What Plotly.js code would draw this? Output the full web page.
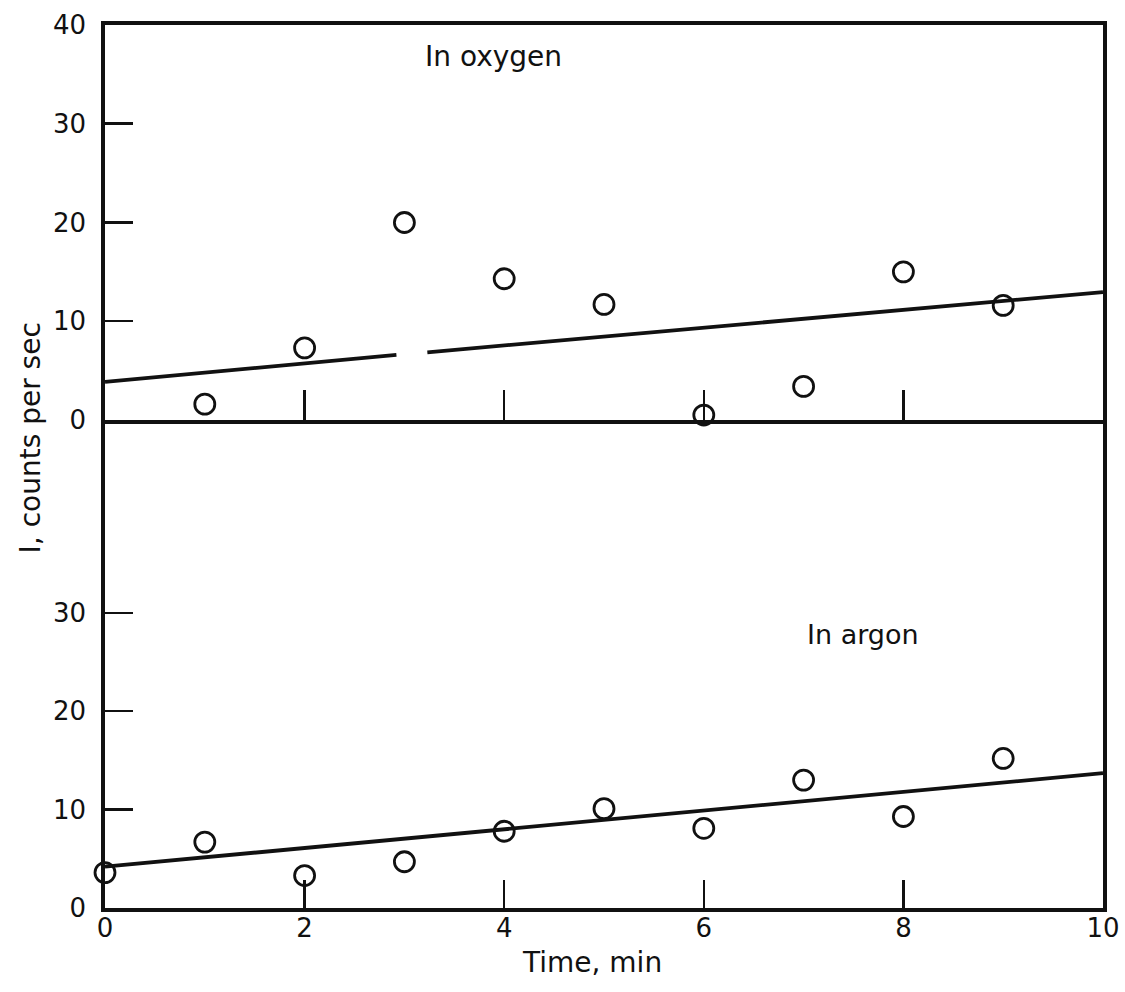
<!DOCTYPE html>
<html>
<head>
<meta charset="utf-8">
<script src="https://cdn.plot.ly/plotly-3.0.1.min.js"></script>
<style>
  html, body { margin: 0; padding: 0; background: #ffffff; }
  #chart { width: 1125px; height: 992px; }
</style>
</head>
<body>
<div id="chart"></div>
<script>
// ---- Data ----
// In oxygen (upper panel)
const oxTime   = [1, 2, 3, 4, 5, 6, 7, 8, 9];
const oxCounts = [1.6, 7.3, 20.0, 14.3, 11.7, 0.5, 3.4, 15.0, 11.6];
// fitted line (drawn with a small break near t = 3 min, as in the original)
const oxFitTime   = [0, 2.92, null, 3.23, 10];
const oxFitCounts = [3.85, 6.6, null, 6.85, 12.95];

// In argon (lower panel)
const arTime   = [0, 1, 2, 3, 4, 5, 6, 7, 8, 9];
const arCounts = [3.6, 6.7, 3.3, 4.7, 7.8, 10.1, 8.1, 13.0, 9.3, 15.2];
const arFitTime   = [0, 10];
const arFitCounts = [4.2, 13.7];

// tick labels
const xTickVals  = [0, 2, 4, 6, 8, 10];
const xTickText  = ['0', '2', '4', '6', '8', '10'];
const topXTicks  = [2, 4, 6, 8];
const oxYTicks   = [0, 10, 20, 30, 40];
const arYTicks   = [0, 10, 20, 30];

// ---- styling ----
const INK = '#111111';
const FONT = 'DejaVu Sans, Liberation Sans, sans-serif';
const split = 0.5527;

const markerStyle = {
  symbol: 'circle-open',
  size: 20,
  color: INK,
  line: { width: 2.8, color: INK }
};

const traces = [
  { x: oxTime, y: oxCounts, xaxis: 'x2', yaxis: 'y2', type: 'scatter', mode: 'markers',
    marker: markerStyle, name: 'In oxygen', cliponaxis: false },
  { x: oxFitTime, y: oxFitCounts, xaxis: 'x2', yaxis: 'y2', type: 'scatter', mode: 'lines',
    line: { color: INK, width: 3.8 }, connectgaps: false, name: 'oxygen fit' },
  { x: arTime, y: arCounts, xaxis: 'x', yaxis: 'y', type: 'scatter', mode: 'markers',
    marker: markerStyle, name: 'In argon', cliponaxis: false },
  { x: arFitTime, y: arFitCounts, xaxis: 'x', yaxis: 'y', type: 'scatter', mode: 'lines',
    line: { color: INK, width: 3.8 }, name: 'argon fit' }
];

const axisCommon = {
  showgrid: false,
  zeroline: false,
  showline: true,
  linecolor: INK,
  ticks: 'inside',
  tickcolor: INK,
  tickwidth: 2.5,
  tickfont: { family: FONT, size: 26, color: INK }
};

const layout = {
  width: 1125,
  height: 992,
  margin: { l: 105, r: 22, t: 25, b: 84 },
  paper_bgcolor: '#ffffff',
  plot_bgcolor: '#ffffff',
  showlegend: false,
  font: { family: FONT, color: INK },
  xaxis: Object.assign({}, axisCommon, {
    domain: [0, 1], range: [0, 10], anchor: 'y',
    linewidth: 3.8, ticklen: 28,
    tickmode: 'array', tickvals: xTickVals, ticktext: xTickText,
    ticklabelstandoff: -6
  }),
  yaxis: Object.assign({}, axisCommon, {
    domain: [0, split], range: [0, 49.6], anchor: 'x',
    linewidth: 3.8, mirror: true, ticklen: 28,
    tickmode: 'array', tickvals: arYTicks, ticktext: arYTicks.map(String),
    ticklabelstandoff: 10
  }),
  xaxis2: Object.assign({}, axisCommon, {
    domain: [0, 1], range: [0, 10], anchor: 'y2', matches: 'x',
    linewidth: 3.8, mirror: true, ticklen: 30,
    tickmode: 'array', tickvals: topXTicks, showticklabels: false
  }),
  yaxis2: Object.assign({}, axisCommon, {
    domain: [split, 1], range: [0, 40], anchor: 'x2',
    linewidth: 3.8, mirror: true, ticklen: 28,
    tickmode: 'array', tickvals: oxYTicks, ticktext: oxYTicks.map(String),
    ticklabelstandoff: 10
  }),
  annotations: [
    { xref: 'x2', yref: 'y2', x: 3.89, y: 36.8, text: 'In oxygen', showarrow: false,
      font: { family: FONT, size: 28, color: INK } },
    { xref: 'x', yref: 'y', x: 7.6, y: 27.8, text: 'In argon', showarrow: false,
      font: { family: FONT, size: 27, color: INK } },
    { xref: 'paper', yref: 'paper', x: -0.075, y: 0.532, text: 'I, counts per sec',
      textangle: -90, showarrow: false, xanchor: 'center', yanchor: 'middle',
      font: { family: FONT, size: 28, color: INK } },
    { xref: 'paper', yref: 'paper', x: 0.488, y: -0.062, text: 'Time, min',
      showarrow: false, xanchor: 'center', yanchor: 'middle',
      font: { family: FONT, size: 28, color: INK } }
  ]
};

Plotly.newPlot('chart', traces, layout, { displayModeBar: false, staticPlot: true });
</script>
</body>
</html>
